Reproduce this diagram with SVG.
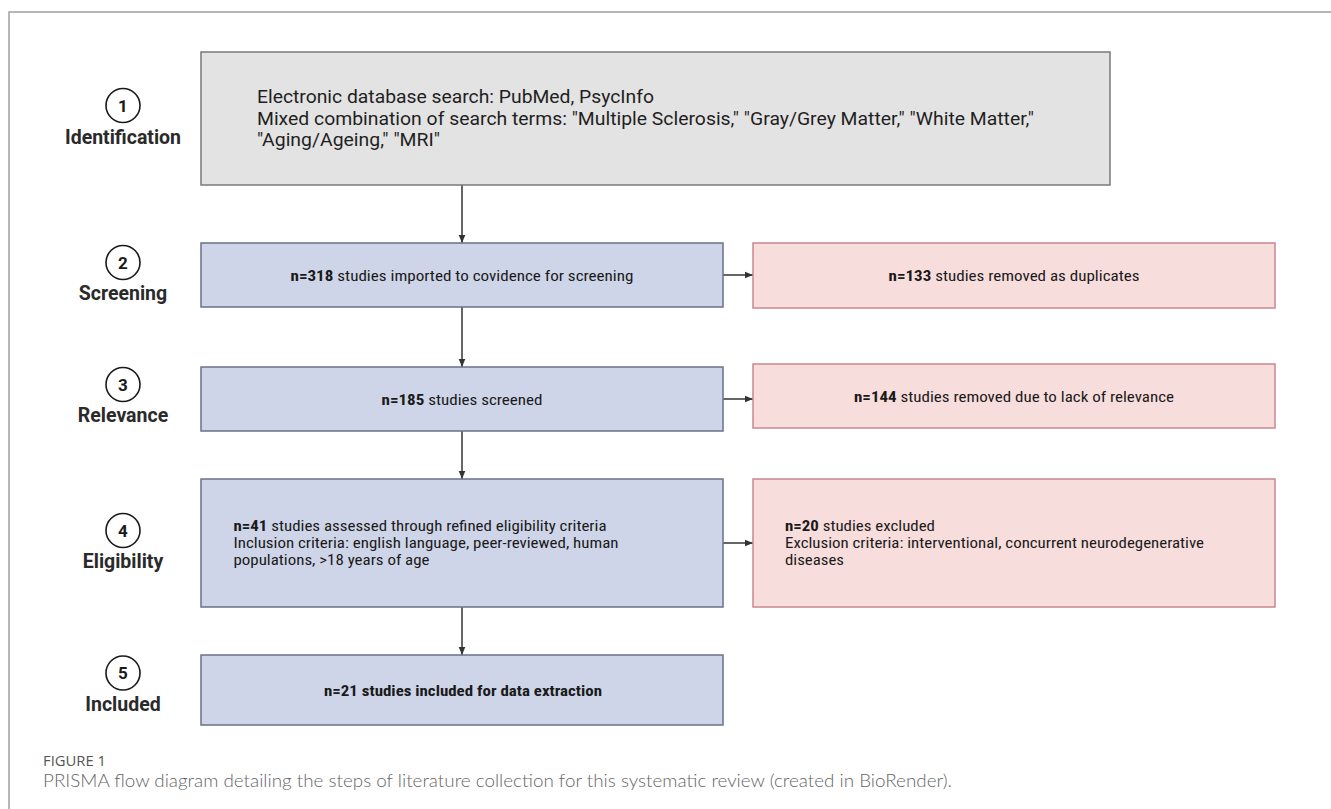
<svg xmlns="http://www.w3.org/2000/svg" width="1331" height="809" viewBox="0 0 1331 809">
<style>
.frame{stroke:#a0a0a0;stroke-width:1.5;fill:none}
.gray{fill:#e3e3e3;stroke:#7a7a7a;stroke-width:1.5}
.blue{fill:#cfd5e8;stroke:#6a7188;stroke-width:1.5}
.pink{fill:#f8dddd;stroke:#c98890;stroke-width:1.5}
.step{fill:none;stroke:#1a1a1a;stroke-width:1.6}
.num{font-family:Roboto,"Liberation Sans",sans-serif;font-weight:700;font-size:17px;fill:#1a1a1a;text-anchor:middle}
.lbl{font-family:Roboto,"Liberation Sans",sans-serif;font-weight:700;font-size:19.5px;fill:#2a2a2a;text-anchor:middle}
.big{font-family:Roboto,"Liberation Sans",sans-serif;font-size:18px;fill:#1f1f1f}
.t{font-family:"Roboto Condensed",Roboto,"Liberation Sans",sans-serif;font-size:15.5px;fill:#1a1a1a}
.b{font-weight:700}
.c{text-anchor:middle}
.arr{stroke:#333;stroke-width:1.5;fill:none;marker-end:url(#ah)}
.fig{font-family:"Open Sans","Liberation Sans",sans-serif;font-size:14px;fill:#555}
.cap{font-family:Lato,"Open Sans","Liberation Sans",sans-serif;font-weight:300;font-size:18.5px;fill:#666}
</style>
<defs>
<marker id="ah" markerUnits="userSpaceOnUse" markerWidth="9" markerHeight="8" refX="8.5" refY="4" orient="auto">
<path d="M0,0.5 L8.5,4 L0,7.5 Z" fill="#333"/>
</marker>
</defs>
<rect width="1331" height="809" fill="#ffffff"/>
<path class="frame" d="M9,809 V12 H1331"/>

<g id="connectors">
<line class="arr" x1="462" y1="185" x2="462" y2="243"/>
<line class="arr" x1="462" y1="307" x2="462" y2="367"/>
<line class="arr" x1="462" y1="431" x2="462" y2="479"/>
<line class="arr" x1="462" y1="607" x2="462" y2="655"/>
<line class="arr" x1="723" y1="275" x2="753" y2="275"/>
<line class="arr" x1="723" y1="399" x2="753" y2="399"/>
<line class="arr" x1="723" y1="543" x2="753" y2="543"/>
</g>

<g id="step1">
<circle class="step" cx="123" cy="105.5" r="17"/>
<text class="num" x="123" y="111.5">1</text>
<text class="lbl" x="123" y="144">Identification</text>
</g>
<g id="step2">
<circle class="step" cx="123" cy="262.5" r="17"/>
<text class="num" x="123" y="268.5">2</text>
<text class="lbl" x="123" y="300">Screening</text>
</g>
<g id="step3">
<circle class="step" cx="123" cy="384.5" r="17"/>
<text class="num" x="123" y="390.5">3</text>
<text class="lbl" x="123" y="422">Relevance</text>
</g>
<g id="step4">
<circle class="step" cx="123" cy="530.5" r="17"/>
<text class="num" x="123" y="536.5">4</text>
<text class="lbl" x="123" y="568">Eligibility</text>
</g>
<g id="step5">
<circle class="step" cx="123" cy="673" r="17"/>
<text class="num" x="123" y="679">5</text>
<text class="lbl" x="123" y="711">Included</text>
</g>

<g id="identification">
<rect class="gray" x="201" y="52" width="909" height="133"/>
<text class="big" x="257" y="103" textLength="397" lengthAdjust="spacingAndGlyphs">Electronic database search: PubMed, PsycInfo</text>
<text class="big" x="257" y="124.5" textLength="777" lengthAdjust="spacingAndGlyphs">Mixed combination of search terms: "Multiple Sclerosis," "Gray/Grey Matter," "White Matter,"</text>
<text class="big" x="257" y="146" textLength="183" lengthAdjust="spacingAndGlyphs">"Aging/Ageing," "MRI"</text>
</g>

<g id="screening">
<rect class="blue" x="201" y="243" width="522" height="64"/>
<text class="t c" x="462" y="280.5" textLength="343" lengthAdjust="spacingAndGlyphs"><tspan class="b">n=318</tspan> studies imported to covidence for screening</text>
</g>
<g id="duplicates">
<rect class="pink" x="753" y="243" width="522" height="65"/>
<text class="t c" x="1014" y="280.5" textLength="251" lengthAdjust="spacingAndGlyphs"><tspan class="b">n=133</tspan> studies removed as duplicates</text>
</g>

<g id="relevance">
<rect class="blue" x="201" y="367" width="522" height="64"/>
<text class="t c" x="462" y="404.5" textLength="161" lengthAdjust="spacingAndGlyphs"><tspan class="b">n=185</tspan> studies screened</text>
</g>
<g id="irrelevant">
<rect class="pink" x="753" y="364" width="522" height="64"/>
<text class="t c" x="1014" y="401.5" textLength="320" lengthAdjust="spacingAndGlyphs"><tspan class="b">n=144</tspan> studies removed due to lack of relevance</text>
</g>

<g id="eligibility">
<rect class="blue" x="201" y="479" width="522" height="128"/>
<text class="t" x="233.5" y="531" textLength="373" lengthAdjust="spacingAndGlyphs"><tspan class="b">n=41</tspan> studies assessed through refined eligibility criteria</text>
<text class="t" x="233.5" y="548" textLength="385" lengthAdjust="spacingAndGlyphs">Inclusion criteria: english language, peer-reviewed, human</text>
<text class="t" x="233.5" y="565" textLength="196" lengthAdjust="spacingAndGlyphs">populations, &gt;18 years of age</text>
</g>
<g id="excluded">
<rect class="pink" x="753" y="479" width="522" height="128"/>
<text class="t" x="785" y="531" textLength="150" lengthAdjust="spacingAndGlyphs"><tspan class="b">n=20</tspan> studies excluded</text>
<text class="t" x="785" y="548" textLength="419" lengthAdjust="spacingAndGlyphs">Exclusion criteria: interventional, concurrent neurodegenerative</text>
<text class="t" x="785" y="565" textLength="59" lengthAdjust="spacingAndGlyphs">diseases</text>
</g>

<g id="included">
<rect class="blue" x="201" y="655" width="522" height="70"/>
<text class="t c b" x="463" y="695.5" textLength="278" lengthAdjust="spacingAndGlyphs">n=21 studies included for data extraction</text>
</g>

<g id="caption">
<text class="fig" x="43" y="766" textLength="63" lengthAdjust="spacingAndGlyphs">FIGURE 1</text>
<text class="cap" x="43" y="787" textLength="909" lengthAdjust="spacingAndGlyphs">PRISMA flow diagram detailing the steps of literature collection for this systematic review (created in BioRender).</text>
</g>
</svg>
